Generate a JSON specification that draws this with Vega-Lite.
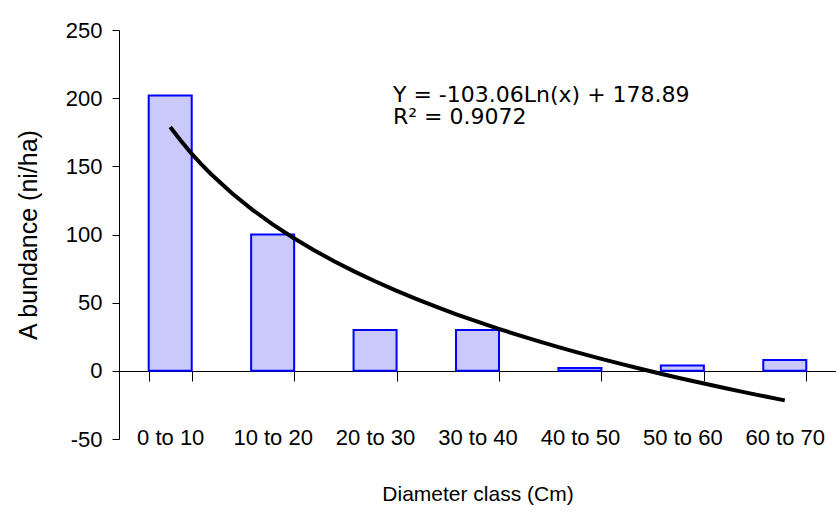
{
  "$schema": "https://vega.github.io/schema/vega-lite/v6.json",
  "autosize": {"type": "none"},
  "width": 717,
  "height": 409,
  "padding": {"left": 119, "top": 30, "right": 0, "bottom": 79},
  "background": "white",
  "config": {"view": {"stroke": null}},
  "datasets": {
    "bars": [
      {"cls": "0 to 10", "abundance": 202},
      {"cls": "10 to 20", "abundance": 100},
      {"cls": "20 to 30", "abundance": 30},
      {"cls": "30 to 40", "abundance": 30},
      {"cls": "40 to 50", "abundance": 2},
      {"cls": "50 to 60", "abundance": 4},
      {"cls": "60 to 70", "abundance": 8}
    ],
    "trend": [
      {"x": 1.0, "y": 178.89}, {"x": 1.1, "y": 169.07}, {"x": 1.2, "y": 160.10}, {"x": 1.3, "y": 151.85},
      {"x": 1.4, "y": 144.21}, {"x": 1.6, "y": 130.45}, {"x": 1.8, "y": 118.31}, {"x": 2.0, "y": 107.45},
      {"x": 2.2, "y": 97.63}, {"x": 2.4, "y": 88.66}, {"x": 2.6, "y": 80.41}, {"x": 2.8, "y": 72.78},
      {"x": 3.0, "y": 65.67}, {"x": 3.2, "y": 59.02}, {"x": 3.4, "y": 52.77}, {"x": 3.6, "y": 46.88},
      {"x": 3.8, "y": 41.31}, {"x": 4.0, "y": 36.02}, {"x": 4.2, "y": 30.99}, {"x": 4.4, "y": 26.20},
      {"x": 4.6, "y": 21.61}, {"x": 4.8, "y": 17.23}, {"x": 5.0, "y": 13.02}, {"x": 5.2, "y": 8.98},
      {"x": 5.4, "y": 5.09}, {"x": 5.6, "y": 1.34}, {"x": 5.8, "y": -2.28}, {"x": 6.0, "y": -5.77},
      {"x": 6.2, "y": -9.15}, {"x": 6.4, "y": -12.42}, {"x": 6.6, "y": -15.59}, {"x": 6.8, "y": -18.67},
      {"x": 7.0, "y": -21.65}
    ],
    "note": [
      {"x": 3.175, "y": 197.5, "label": ["Y = -103.06Ln(x) + 178.89", "R² = 0.9072"]}
    ]
  },
  "layer": [
    {
      "data": {"name": "bars"},
      "mark": {"type": "bar", "fill": "#c9c9fc", "stroke": "#0000ff", "strokeWidth": 2},
      "encoding": {
        "x": {
          "field": "cls", "type": "nominal", "sort": null,
          "scale": {"paddingInner": 0.58, "paddingOuter": 0.29},
          "axis": {
            "title": "Diameter class (Cm)",
            "offset": -68,
            "labelAngle": 0,
            "tickBand": "extent",
            "tickSize": 10,
            "tickColor": "black",
            "domainColor": "black",
            "labelFont": "Liberation Sans",
            "labelFontSize": 22,
            "labelColor": "black",
            "labelPadding": 46,
            "titleFont": "Liberation Sans",
            "titleFontSize": 21,
            "titleFontWeight": "normal",
            "titleColor": "black",
            "titlePadding": 35
          }
        },
        "y": {
          "field": "abundance", "type": "quantitative",
          "scale": {"domain": [-50, 250], "nice": false, "zero": false},
          "axis": {
            "title": "A bundance  (ni/ha)",
            "values": [-50, 0, 50, 100, 150, 200, 250],
            "labelExpr": "replace(datum.label, '\u2212', '-')",
            "grid": false,
            "tickSize": 7,
            "tickColor": "black",
            "domainColor": "black",
            "labelFont": "Liberation Sans",
            "labelFontSize": 22,
            "labelColor": "black",
            "labelPadding": 10,
            "titleFont": "Liberation Sans",
            "titleFontSize": 25,
            "titleFontWeight": "normal",
            "titleColor": "black",
            "titlePadding": 24
          }
        }
      }
    },
    {
      "data": {"name": "trend"},
      "mark": {"type": "line", "color": "black", "strokeWidth": 4},
      "encoding": {
        "x": {"field": "x", "type": "quantitative", "scale": {"domain": [0.5, 7.5], "nice": false, "zero": false}, "axis": null},
        "y": {"field": "y", "type": "quantitative"}
      }
    },
    {
      "data": {"name": "note"},
      "mark": {"type": "text", "align": "left", "baseline": "alphabetic", "font": "DejaVu Sans", "fontSize": 22, "lineHeight": 22, "color": "black"},
      "encoding": {
        "x": {"field": "x", "type": "quantitative", "scale": {"domain": [0.5, 7.5], "nice": false, "zero": false}, "axis": null},
        "y": {"field": "y", "type": "quantitative"},
        "text": {"field": "label"}
      }
    }
  ],
  "resolve": {"scale": {"x": "independent"}, "axis": {"x": "independent"}}
}
